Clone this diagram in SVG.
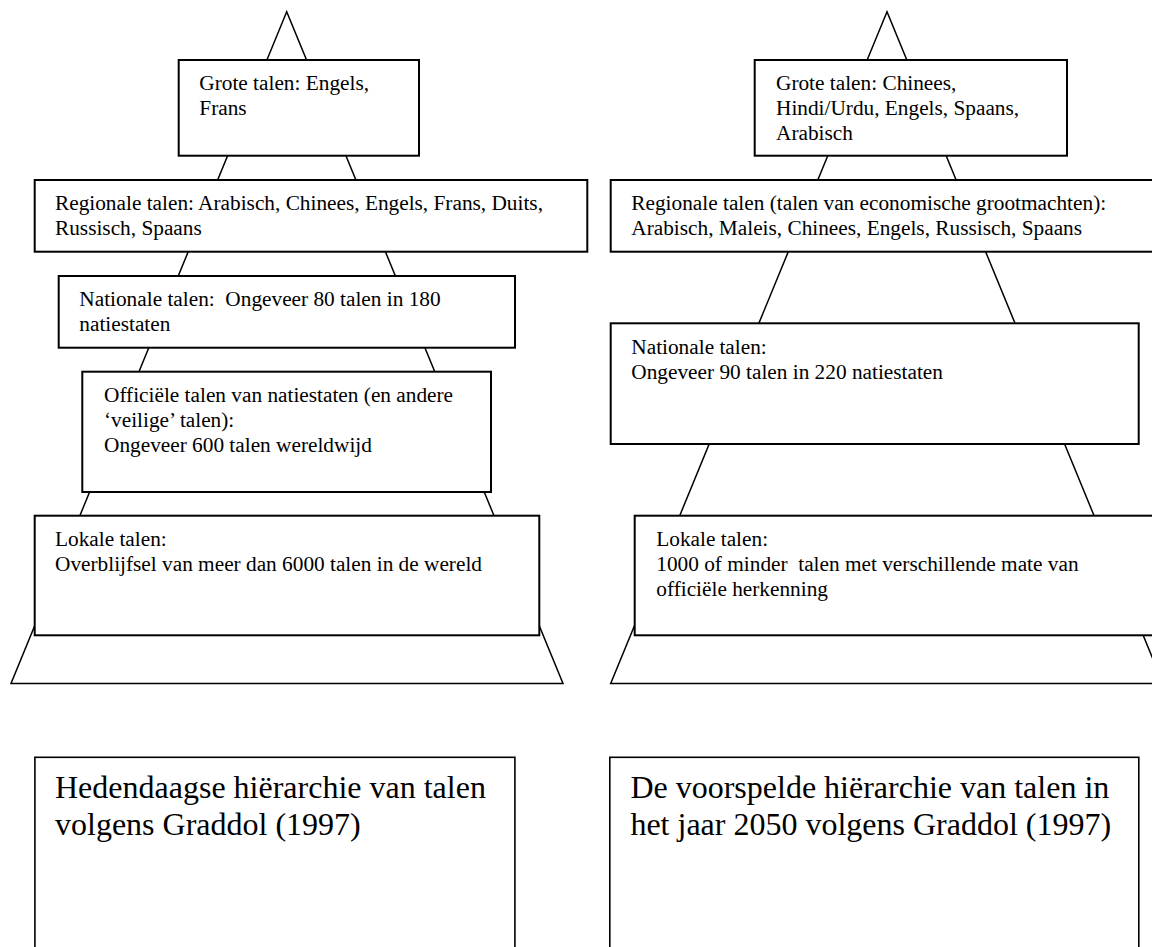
<svg xmlns="http://www.w3.org/2000/svg" width="1152" height="947" viewBox="0 0 1152 947">
<style>
.bg{fill:#ffffff}
.box{fill:#ffffff;stroke:#000000;stroke-width:2}
.cap{fill:#ffffff;stroke:#000000;stroke-width:1.6}
.pyr{fill:none;stroke:#000000;stroke-width:1.5;stroke-linejoin:miter}
.t{font-family:"Liberation Serif","Times New Roman",serif;font-size:21.3px;fill:#000000;white-space:pre}
.tl{font-family:"Liberation Serif","Times New Roman",serif;font-size:32px;fill:#000000;white-space:pre}
</style>
<rect class="bg" x="0" y="0" width="1152" height="947"/>
<g id="connectors">
<polygon class="pyr" points="286.7,11.7 11,683.5 563,683.5"/>
<polygon class="pyr" points="887,11.7 610.7,683.5 1163,683.5"/>
</g>
<g id="left-grote">
<rect class="box" x="178.7" y="60" width="240.3" height="95.7"/>
<text class="t" x="199.3" y="90">Grote talen: Engels,</text>
<text class="t" x="199.3" y="115">Frans</text>
</g>
<g id="left-regionale">
<rect class="box" x="34.7" y="180" width="552.6" height="71.7"/>
<text class="t" x="55" y="210">Regionale talen: Arabisch, Chinees, Engels, Frans, Duits,</text>
<text class="t" x="55" y="235">Russisch, Spaans</text>
</g>
<g id="left-nationale">
<rect class="box" x="58.7" y="276" width="456.3" height="71.7"/>
<text class="t" x="79.3" y="306">Nationale talen:  Ongeveer 80 talen in 180</text>
<text class="t" x="79.3" y="331">natiestaten</text>
</g>
<g id="left-officiele">
<rect class="box" x="82.3" y="371.7" width="408.7" height="120.3"/>
<text class="t" x="104" y="402">Officiële talen van natiestaten (en andere</text>
<text class="t" x="104" y="427">‘veilige’ talen):</text>
<text class="t" x="104" y="452">Ongeveer 600 talen wereldwijd</text>
</g>
<g id="left-lokale">
<rect class="box" x="34.7" y="515.7" width="504.6" height="119.6"/>
<text class="t" x="55" y="546">Lokale talen:</text>
<text class="t" x="55" y="571">Overblijfsel van meer dan 6000 talen in de wereld</text>
</g>
<g id="right-grote">
<rect class="box" x="754.7" y="60" width="312.3" height="95.7"/>
<text class="t" x="776" y="90">Grote talen: Chinees,</text>
<text class="t" x="776" y="115">Hindi/Urdu, Engels, Spaans,</text>
<text class="t" x="776" y="140">Arabisch</text>
</g>
<g id="right-regionale">
<rect class="box" x="610.7" y="180" width="560" height="71.7"/>
<text class="t" x="631.3" y="210">Regionale talen (talen van economische grootmachten):</text>
<text class="t" x="631.3" y="235">Arabisch, Maleis, Chinees, Engels, Russisch, Spaans</text>
</g>
<g id="right-nationale">
<rect class="box" x="610.7" y="323.3" width="528" height="120.7"/>
<text class="t" x="631.3" y="353.5">Nationale talen:</text>
<text class="t" x="631.3" y="378.5">Ongeveer 90 talen in 220 natiestaten</text>
</g>
<g id="right-lokale">
<rect class="box" x="634.7" y="515.7" width="540" height="119.6"/>
<text class="t" x="656.3" y="546">Lokale talen:</text>
<text class="t" x="656.3" y="571">1000 of minder  talen met verschillende mate van</text>
<text class="t" x="656.3" y="596">officiële herkenning</text>
</g>
<g id="caption-left">
<rect class="cap" x="34.9" y="757.3" width="480" height="220"/>
<text class="tl" x="55" y="798">Hedendaagse hiërarchie van talen</text>
<text class="tl" x="55" y="835">volgens Graddol (1997)</text>
</g>
<g id="caption-right">
<rect class="cap" x="609.8" y="757.3" width="529" height="220"/>
<text class="tl" x="630.4" y="798">De voorspelde hiërarchie van talen in</text>
<text class="tl" x="630.4" y="835">het jaar 2050 volgens Graddol (1997)</text>
</g>
</svg>
